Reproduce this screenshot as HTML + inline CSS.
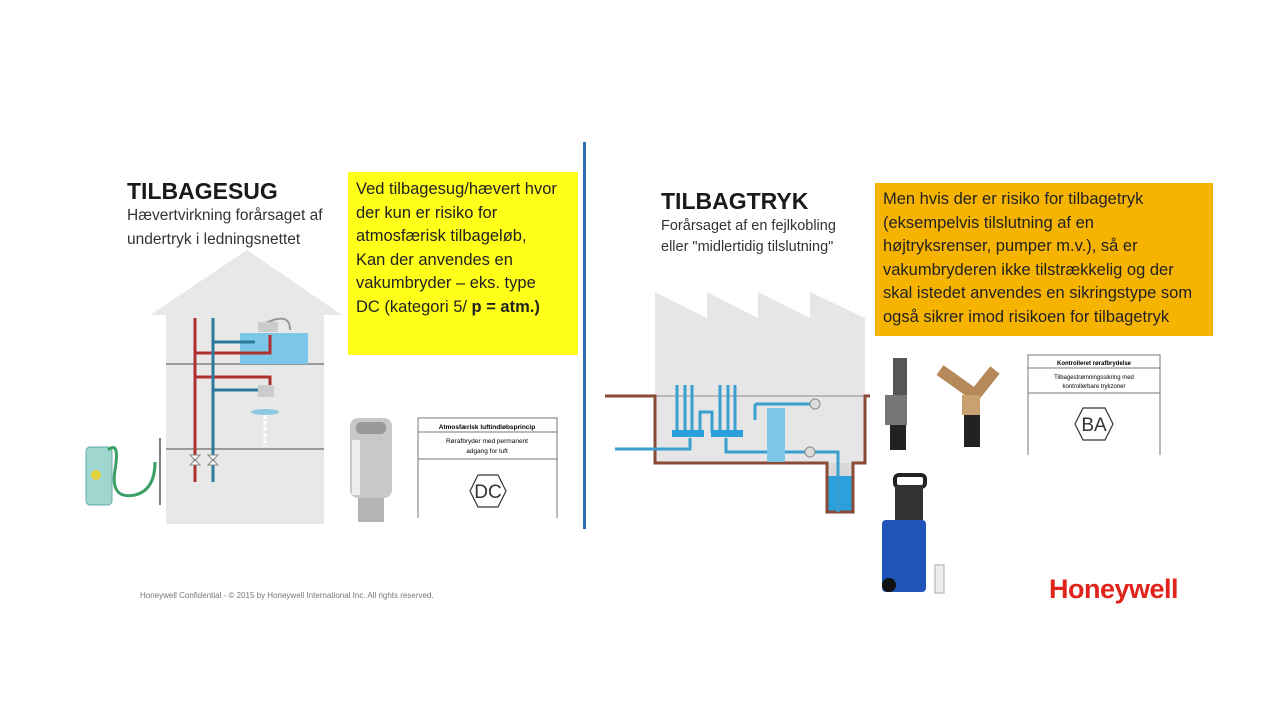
<!DOCTYPE html>
<html><head><meta charset="utf-8"><style>
body{margin:0;width:1280px;height:720px;background:#fff;position:relative;overflow:hidden;font-family:"Liberation Sans",sans-serif;color:#222}
.a{position:absolute;white-space:nowrap}
.t{font-weight:bold;font-size:23px;color:#1a1a1a}
.s{font-size:15.5px;line-height:24px;color:#333}
.box{position:absolute;font-size:16.5px;line-height:23.6px;color:#222;padding:6px 8px;box-sizing:border-box;white-space:nowrap}
</style></head><body>
<svg class="a" style="left:0;top:0" width="1280" height="720">
<rect x="583" y="142" width="3" height="387" fill="#2b6db5"/>
<polygon points="150,315 247,250 342,315" fill="#e8e8e8"/>
<rect x="166" y="314" width="158" height="210" fill="#e8e8e8"/>
<line x1="166" y1="364" x2="324" y2="364" stroke="#9a9a9a" stroke-width="2"/>
<line x1="166" y1="449" x2="324" y2="449" stroke="#9a9a9a" stroke-width="2"/>
<rect x="240" y="333" width="68" height="31" fill="#7cc6e8"/>
<g fill="none" stroke-width="3">
<path d="M195,318 V482 M195,353 H270 V335 M195,377 H270 V395" stroke="#b03030"/>
<path d="M213,318 V482 M213,342 H255 M213,390 H262" stroke="#2a7a9a"/>
</g>
<path d="M262,325 Q290,310 290,330" stroke="#999" fill="none" stroke-width="2"/>
<rect x="258" y="322" width="20" height="10" fill="#ccc"/>
<rect x="258" y="385" width="16" height="12" fill="#ccc"/>
<ellipse cx="265" cy="412" rx="14" ry="3" fill="#8cc8e0"/>
<line x1="265" y1="415" x2="265" y2="446" stroke="#fff" stroke-width="3" stroke-dasharray="4 2"/>
<path d="M190,455 l10,10 l-10,0 l10,-10 z M208,455 l10,10 l-10,0 l10,-10 z" fill="#fff" stroke="#888"/>
<line x1="160" y1="438" x2="160" y2="505" stroke="#555" stroke-width="1.5"/>
<rect x="86" y="447" width="26" height="58" rx="4" fill="#9fd6cf" stroke="#6aa"/>
<circle cx="96" cy="475" r="5" fill="#e5d23a"/>
<path d="M108,450 Q120,440 115,470 Q110,500 135,495 Q155,490 155,462" stroke="#3aa066" fill="none" stroke-width="3"/>
<rect x="350" y="418" width="42" height="80" rx="8" fill="#c8c8c8"/>
<rect x="356" y="422" width="30" height="12" rx="5" fill="#999"/>
<rect x="352" y="440" width="8" height="55" fill="#eee"/>
<rect x="358" y="498" width="26" height="24" fill="#b5b5b5"/>
<g stroke="#777" fill="none" stroke-width="1">
<path d="M418,518 V418 H557 V518 M418,432 H557 M418,459 H557"/>
<polygon points="470,491 478,475 498,475 506,491 498,507 478,507" stroke="#333" stroke-width="1.2"/>
</g>
<text x="487" y="429" font-size="6.5" font-weight="bold" text-anchor="middle" font-family="Liberation Sans">Atmosfærisk luftindløbsprincip</text>
<text x="487" y="443" font-size="6.5" text-anchor="middle" font-family="Liberation Sans">Rørafbryder med permanent</text>
<text x="487" y="453" font-size="6.5" text-anchor="middle" font-family="Liberation Sans">adgang for luft</text>
<text x="488" y="498" font-size="19" text-anchor="middle" font-family="Liberation Sans" fill="#333">DC</text>
<!-- factory -->
<polygon points="655,292 707,318 707,292 758,318 758,292 810,318 810,292 865,318 865,463 655,463" fill="#e6e6e6"/>
<line x1="655" y1="396" x2="865" y2="396" stroke="#aaa" stroke-width="1.5"/>
<rect x="827" y="463" width="26" height="49" fill="#d8d8d8"/>
<rect x="827" y="476" width="26" height="36" fill="#2aa0dc"/>
<path d="M605,396 H655 V463 H827 V512 H853 V463 H865 V396 H870" stroke="#8a4a35" stroke-width="3" fill="none"/>
<g stroke="#3a9fd0" stroke-width="3" fill="none">
<path d="M677,385 V433 M685,385 V433 M692,385 V433 M720,385 V433 M728,385 V433 M735,385 V433"/>
<path d="M615,449 H690 V438 M700,433 V412 H712 V433 M726,438 V452 H767 M755,404 H810 M755,404 V420 M785,452 H838 V512"/>
</g>
<rect x="672" y="430" width="32" height="7" fill="#2aa0dc"/>
<rect x="711" y="430" width="32" height="7" fill="#2aa0dc"/>
<rect x="767" y="408" width="18" height="54" fill="#7cc6e8"/>
<circle cx="815" cy="404" r="5" fill="#ddd" stroke="#888"/>
<circle cx="810" cy="452" r="5" fill="#ddd" stroke="#888"/>
<!-- products -->
<rect x="893" y="358" width="14" height="40" fill="#555"/>
<rect x="885" y="395" width="22" height="30" fill="#777"/>
<rect x="890" y="425" width="16" height="25" fill="#222"/>
<path d="M940,370 L975,395 L995,370" stroke="#b5895a" stroke-width="12" fill="none"/>
<rect x="962" y="395" width="18" height="20" fill="#c9a070"/>
<rect x="964" y="415" width="16" height="32" fill="#222"/>
<g stroke="#777" fill="none">
<path d="M1028,455 V355 H1160 V455 M1028,368 H1160 M1028,393 H1160"/>
<polygon points="1075,424 1083,408 1105,408 1113,424 1105,440 1083,440" stroke="#333" stroke-width="1.2"/>
</g>
<text x="1094" y="365" font-size="6" font-weight="bold" text-anchor="middle" font-family="Liberation Sans">Kontrolleret rørafbrydelse</text>
<text x="1094" y="379" font-size="6" text-anchor="middle" font-family="Liberation Sans">Tilbagestrømningssikring med</text>
<text x="1094" y="388" font-size="6" text-anchor="middle" font-family="Liberation Sans">kontrollerbare trykzoner</text>
<text x="1094" y="431" font-size="19" text-anchor="middle" font-family="Liberation Sans" fill="#333">BA</text>
<rect x="895" y="475" width="30" height="12" rx="4" fill="none" stroke="#222" stroke-width="4"/>
<rect x="895" y="485" width="28" height="35" fill="#333"/>
<rect x="882" y="520" width="44" height="72" rx="4" fill="#1f55b8"/>
<circle cx="889" cy="585" r="7" fill="#111"/>
<rect x="935" y="565" width="9" height="28" fill="#eee" stroke="#aaa"/>
</svg>
<div class="a t" style="left:127px;top:178px">TILBAGESUG</div>
<div class="a s" style="left:127px;top:204px">Hævertvirkning forårsaget af<br>undertryk i ledningsnettet</div>
<div class="box" style="left:348px;top:172px;width:230px;height:183px;background:#ffff1a">Ved tilbagesug/hævert hvor<br>der kun er risiko for<br>atmosfærisk tilbageløb,<br>Kan der anvendes en<br>vakumbryder – eks. type<br>DC (kategori 5/ <b>p = atm.)</b></div>
<div class="a t" style="left:661px;top:188px">TILBAGTRYK</div>
<div class="a" style="left:661px;top:216px;font-size:14.5px;line-height:21px;color:#333">Forårsaget af en fejlkobling<br>eller "midlertidig tilslutning"</div>
<div class="box" style="left:875px;top:183px;width:338px;height:153px;background:#f6b400;padding-top:5px">Men hvis der er risiko for tilbagetryk<br>(eksempelvis tilslutning af en<br>højtryksrenser, pumper m.v.), så er<br>vakumbryderen ikke tilstrækkelig og der<br>skal istedet anvendes en sikringstype som<br>også sikrer imod risikoen for tilbagetryk</div>
<div class="a" style="left:140px;top:591px;font-size:8px;color:#777">Honeywell Confidential - © 2015 by Honeywell International Inc. All rights reserved.</div>
<div class="a" style="left:1049px;top:574px;font-size:27px;font-weight:bold;color:#e0241b;letter-spacing:-0.5px">Honeywell</div>
</body></html>
